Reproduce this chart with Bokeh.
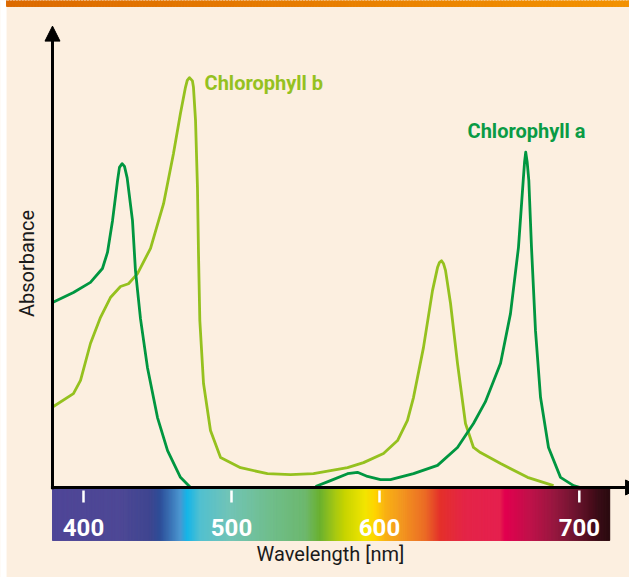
import numpy as np
from bokeh.plotting import figure
from bokeh.models import Range1d, Arrow, NormalHead
from bokeh.core.properties import value
from bokeh.embed import file_html
from bokeh.resources import INLINE

nan = float("nan")

# ---- data (wavelength axis units, absorbance arbitrary units) ----
chl_a_nm = [379.1, 393.2, 404.7, 412.8, 416.2, 419.6, 423.0, 424.3, 426.1, 427.7,
            429.5, 433.1, 435.1, 438.5, 443.2, 450.0, 456.8, 465.5, 472.3, nan,
            556.8, 566.9, 578.4, 585.1, 591.9, 600.7, 607.4, 623.0, 639.2, 652.7,
            663.5, 671.5, 681.8, 688.5, 693.9, 697.1, 698.0, 698.8, 699.8, 700.9,
            702.7, 705.4, 708.8, 714.2, 722.3, 731.1, 735.8]
chl_a_abs = [40.2, 42.4, 44.6, 47.6, 51.1, 58.0, 66.7, 69.6, 70.4, 69.8,
             67.3, 58.0, 47.2, 36.7, 26.1, 15.2, 8.0, 2.2, 0.0, nan,
             0.2, 1.5, 3.0, 3.3, 2.4, 1.7, 1.7, 3.0, 4.8, 8.7,
             13.9, 18.6, 27.0, 37.8, 52.2, 66.7, 70.7, 72.9, 70.7, 66.7,
             52.2, 34.1, 19.6, 8.7, 2.2, 0.4, 0.0]

chl_b_nm = [379.7, 393.2, 398.0, 404.7, 411.5, 418.2, 425.0, 430.4, 436.5, 445.3,
            454.1, 460.8, 465.5, 468.9, 470.1, 471.6, 473.6, 474.3, 475.7, 477.0,
            477.7, 478.6, 481.1, 485.8, 492.6, 506.1, 524.3, 539.9, 555.4, 578.4,
            589.2, 602.7, 612.2, 618.9, 623.0, 629.7, 635.8, 639.2, 640.5, 641.9,
            643.2, 644.6, 648.0, 652.7, 658.1, 663.5, 668.2, 681.8, 700.0, 717.6]
chl_b_abs = [17.6, 20.4, 23.3, 31.3, 37.0, 41.3, 43.7, 44.3, 46.5, 52.0,
             61.7, 72.6, 81.3, 87.0, 88.5, 89.1, 88.4, 87.0, 79.8, 65.2,
             50.9, 36.3, 22.6, 12.4, 6.5, 4.3, 3.0, 2.8, 3.0, 4.3,
             5.4, 7.4, 10.2, 14.6, 19.6, 30.4, 42.8, 47.8, 48.9, 49.3,
             48.7, 47.2, 40.0, 27.0, 13.9, 8.7, 7.6, 5.2, 2.2, 0.4]

tick_nm = [400, 500, 600, 735]
tick_labels = ["400", "500", "600", "700"]

series_names = ["Chlorophyll a", "Chlorophyll b"]

# spectrum colour stops (decoration)
spectrum_nm = [379.05, 425.0, 445.3, 452.0, 460.1, 465.5, 470.3, 479.1, 499.3, 526.4,
               550.0, 560.1, 570.3, 577.0, 590.5, 597.3, 604.1, 614.2, 631.1, 641.2,
               658.1, 681.8, 685.1, 702.0, 718.9, 732.4, 742.6, 748.0, 755.4]
spectrum_colors = ["#4F4697", "#4E4896", "#3F4690", "#2E4E98", "#3D78BA", "#4C96D0",
                   "#14B5E8", "#52C0D0", "#72C4B6", "#70BE8C", "#6DB86E", "#6BB12F",
                   "#A6C813", "#C8D400", "#F2E500", "#FFD400", "#F9B214", "#F39A1F",
                   "#EB6C26", "#E4312B", "#E42548", "#E5204F", "#E2004F", "#C0124A",
                   "#96183F", "#6E1530", "#4E0E1E", "#3A0D17", "#2C0B10"]

CREAM = "#FCEFE0"
COL_A = "#009640"
COL_B = "#95C11F"
TXT_A = "#0A9B45"

X0, X1 = 343.92, 768.92
Y0, Y1 = -19.57, 105.87


def hex_rgb(h):
    h = h.lstrip("#")
    return [int(h[i:i + 2], 16) for i in (0, 2, 4)]


def gradient(stops_x, stops_c, x0, x1, step):
    xs = np.arange(x0, x1, step)
    rgb = np.array([hex_rgb(c) for c in stops_c], dtype=float)
    cols = []
    for x in xs + step / 2:
        r, g, b = (int(round(np.interp(x, stops_x, rgb[:, k]))) for k in range(3))
        cols.append("#%02x%02x%02x" % (r, g, b))
    return xs, xs + step, cols


p = figure(width=629, height=577,
           x_range=Range1d(X0, X1), y_range=Range1d(Y0, Y1),
           output_backend="svg", toolbar_location=None,
           x_axis_location=None, y_axis_location=None,
           min_border=0, min_border_left=0, min_border_right=0,
           min_border_top=0, min_border_bottom=0,
           background_fill_color=CREAM, border_fill_color=CREAM,
           outline_line_color=None)
p.grid.visible = False

# white strip on the left and the top orange band
p.quad(left=[X0 - 1], right=[348.0], top=[Y1 + 1], bottom=[Y0 - 1],
       fill_color="white", line_color=None)
ol, orr, oc = gradient([348.0, 775.0], ["#DC6A00", "#F39200"], 348.0, 775.0, 2.0)
p.quad(left=ol, right=orr, top=Y1 + 1, bottom=104.57, fill_color=oc, line_color=oc, line_width=1)

# curves
p.line(chl_b_nm, chl_b_abs, line_color=COL_B, line_width=2.8, line_join="round")
p.line(chl_a_nm, chl_a_abs, line_color=COL_A, line_width=2.8, line_join="round")

# spectrum bar
sl, sr, sc = gradient(spectrum_nm, spectrum_colors, spectrum_nm[0], spectrum_nm[-1], 0.5)
p.quad(left=sl, right=sr, top=-0.22, bottom=-11.52, fill_color=sc, line_color=sc, line_width=1)

# axes with arrow heads
p.add_layout(Arrow(end=NormalHead(size=15, fill_color="black", line_color="black", line_width=1),
                   x_start=379.05, y_start=-0.4, x_end=379.05, y_end=100.3,
                   line_width=3, line_color="black"))
p.add_layout(Arrow(end=NormalHead(size=15, fill_color="black", line_color="black", line_width=1),
                   x_start=378.0, y_start=0.0, x_end=776.4, y_end=0.0,
                   line_width=3, line_color="black"))

# white ticks and labels inside the spectrum
p.segment(x0=tick_nm, y0=[-0.65] * 4, x1=tick_nm, y1=[-3.26] * 4,
          line_color="white", line_width=2.5)
p.text(x=tick_nm, y=[-8.7] * 4, text=tick_labels, text_color="white",
       text_font=value("Roboto"), text_font_style="bold", text_font_size="24px",
       text_align="center", text_baseline="middle")

# axis titles
p.text(x=[566.9], y=[-14.4], text=["Wavelength [nm]"], text_color="#1a1a1a",
       text_font=value("Roboto"), text_font_size="20px",
       text_align="center", text_baseline="middle")
p.text(x=[361.5], y=[48.7], text=["Absorbance"], text_color="#1a1a1a",
       text_font=value("Roboto"), text_font_size="20px", angle=np.pi / 2,
       text_align="center", text_baseline="middle")

# series labels
p.text(x=[659.5], y=[77.6], text=[series_names[0]], text_color=TXT_A,
       text_font=value("Roboto"), text_font_style="bold", text_font_size="20px",
       text_align="left", text_baseline="middle")
p.text(x=[481.8], y=[88.0], text=[series_names[1]], text_color=COL_B,
       text_font=value("Roboto"), text_font_style="bold", text_font_size="20px",
       text_align="left", text_baseline="middle")

open("out.html", "w").write(file_html(p, INLINE))
